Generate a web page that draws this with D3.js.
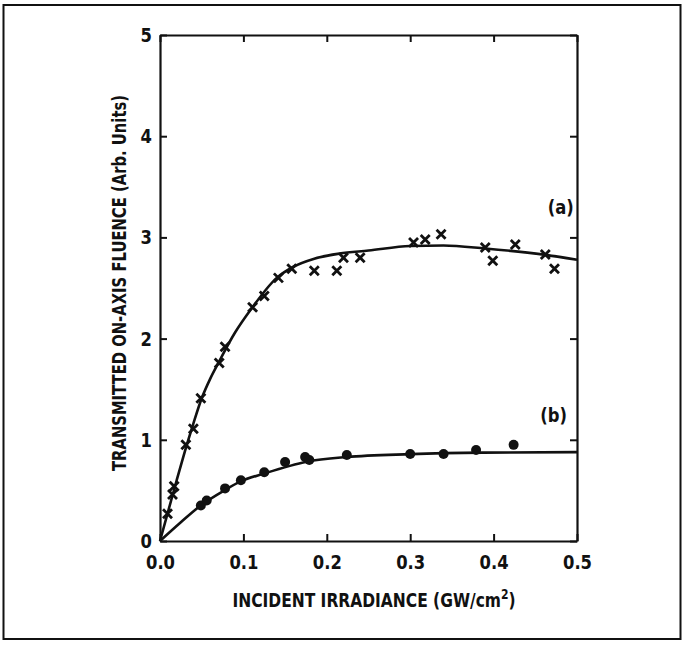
<!DOCTYPE html>
<html lang="en">
<head>
<meta charset="utf-8">
<script src="https://cdn.jsdelivr.net/npm/d3@7"></script>
<style>
    body { margin: 0; background: #fff; }
    text { font-family: "DejaVu Sans", sans-serif; font-weight: bold; fill: #111; }
</style>
</head>
<body>
<div id="chart"></div>
<script type="text/javascript">

    // measured points, curve (a): crosses
    var aX = [0.009, 0.015, 0.017, 0.031, 0.040, 0.049, 0.071, 0.078, 0.111, 0.125, 0.142, 0.158,
              0.185, 0.212, 0.220, 0.240, 0.304, 0.318, 0.337, 0.390, 0.399, 0.426, 0.462, 0.473];
    var aY = [0.27, 0.46, 0.54, 0.95, 1.11, 1.41, 1.76, 1.92, 2.31, 2.42, 2.60, 2.69,
              2.67, 2.67, 2.80, 2.80, 2.95, 2.98, 3.03, 2.90, 2.77, 2.93, 2.83, 2.69];

    // measured points, curve (b): dots
    var bX = [0.049, 0.056, 0.078, 0.097, 0.125, 0.150, 0.174, 0.179, 0.224, 0.300, 0.340, 0.379, 0.424];
    var bY = [0.35, 0.40, 0.52, 0.60, 0.68, 0.78, 0.83, 0.80, 0.85, 0.86, 0.86, 0.90, 0.95];

    // fitted curves
    var fitAX = [0, 0.01, 0.02, 0.03, 0.04, 0.05, 0.06, 0.07, 0.09, 0.11, 0.14, 0.16, 0.185, 0.215, 0.25, 0.30, 0.34, 0.39, 0.46, 0.50];
    var fitAY = [0, 0.30, 0.60, 0.89, 1.16, 1.41, 1.60, 1.76, 2.06, 2.30, 2.60, 2.71, 2.79, 2.84, 2.87, 2.915, 2.92, 2.89, 2.83, 2.78];

    var fitBX = [0, 0.025, 0.048, 0.078, 0.096, 0.125, 0.176, 0.224, 0.30, 0.387, 0.50];
    var fitBY = [0, 0.185, 0.346, 0.504, 0.586, 0.667, 0.784, 0.830, 0.858, 0.873, 0.878];

    var xTicks = [0, 0.1, 0.2, 0.3, 0.4, 0.5];
    var yTicks = [0, 1, 2, 3, 4, 5];

    var svgWidth = 684;
    var svgHeight = 645;

    var svg = d3.select("#chart").append("svg")
            .attr("width", svgWidth)
            .attr("height", svgHeight);

    /* frame round the figure */
    svg.append("rect")
            .attr("x", 3.5).attr("y", 5).attr("width", 677).attr("height", 634)
            .attr("fill", "none").attr("stroke", "#111").attr("stroke-width", 2);

    var margin = {top: 35, left: 160};
    var chartWidth = 417;
    var chartHeight = 506;

    /* no narrow font installed, so squeeze the text sideways */
    var narrow = "scale(0.82,1)";

    var g = svg.append("g")
            .attr("transform", "translate(" + margin.left + ", " + margin.top + ")");

    var x = d3.scaleLinear().domain([0, 0.5]).range([0, chartWidth]);
    var y = d3.scaleLinear().domain([0, 5]).range([chartHeight, 0]);

    /* axes: ticks point inwards on all four sides */
    var tick = 7;
    var axBottom = g.append("g").attr("transform", "translate(0," + chartHeight + ")")
            .call(d3.axisBottom(x).tickValues(xTicks).tickSizeInner(-tick).tickSizeOuter(0)
                    .tickPadding(14).tickFormat(d3.format(".1f")));
    var axTop = g.append("g")
            .call(d3.axisTop(x).tickValues(xTicks).tickSizeInner(-tick).tickSizeOuter(0).tickFormat(""));
    var axLeft = g.append("g")
            .call(d3.axisLeft(y).tickValues(yTicks).tickSizeInner(-tick).tickSizeOuter(0)
                    .tickPadding(10).tickFormat(d3.format("d")));
    var axRight = g.append("g").attr("transform", "translate(" + chartWidth + ",0)")
            .call(d3.axisRight(y).tickValues(yTicks).tickSizeInner(-tick).tickSizeOuter(0).tickFormat(""));

    [axBottom, axTop, axLeft, axRight].forEach(function(a) {
        a.select(".domain").attr("stroke", "#111").attr("stroke-width", 2.2);
        a.selectAll(".tick line").attr("stroke", "#111").attr("stroke-width", 2);
        a.selectAll(".tick text").style("font-size", "20px").attr("fill", "#111")
                .attr("transform", narrow);
    });

    /* axis titles */
    var xt = svg.append("text")
            .attr("transform", "translate(374, 607) scale(0.775,1)")
            .attr("text-anchor", "middle")
            .style("font-size", "20px");
    xt.append("tspan").text("INCIDENT IRRADIANCE (GW/cm");
    xt.append("tspan").attr("dy", -8).style("font-size", "14px").text("2");
    xt.append("tspan").attr("dy", 8).text(")");

    svg.append("text")
            .attr("transform", "translate(126, 283) rotate(-90) scale(0.74,1)")
            .attr("text-anchor", "middle")
            .style("font-size", "20px")
            .text("TRANSMITTED ON-AXIS FLUENCE (Arb. Units)");

    /* fitted lines */
    var line = d3.line()
            .x(function(d) { return x(d[0]); })
            .y(function(d) { return y(d[1]); })
            .curve(d3.curveMonotoneX);

    g.append("path")
            .datum(d3.zip(fitAX, fitAY))
            .attr("d", line)
            .attr("fill", "none").attr("stroke", "#111").attr("stroke-width", 2.6);

    g.append("path")
            .datum(d3.zip(fitBX, fitBY))
            .attr("d", line)
            .attr("fill", "none").attr("stroke", "#111").attr("stroke-width", 2.6);

    /* crosses for (a) */
    var s = 4.5;
    g.selectAll(".cross")
            .data(d3.zip(aX, aY))
            .enter()
            .append("path")
            .attr("class", "cross")
            .attr("transform", function(d) { return "translate(" + x(d[0]) + "," + y(d[1]) + ")"; })
            .attr("d", "M" + (-s) + "," + (-s) + "L" + s + "," + s + "M" + (-s) + "," + s + "L" + s + "," + (-s))
            .attr("stroke", "#111").attr("stroke-width", 2.8);

    /* dots for (b) */
    g.selectAll(".dot")
            .data(d3.zip(bX, bY))
            .enter()
            .append("circle")
            .attr("class", "dot")
            .attr("cx", function(d) { return x(d[0]); })
            .attr("cy", function(d) { return y(d[1]); })
            .attr("r", 5)
            .attr("fill", "#111");

    /* curve labels */
    g.append("text").attr("transform", "translate(" + x(0.465) + "," + y(3.23) + ") " + narrow)
            .style("font-size", "20px").text("(a)");
    g.append("text").attr("transform", "translate(" + x(0.456) + "," + y(1.18) + ") " + narrow)
            .style("font-size", "20px").text("(b)");

</script>
</body>
</html>
